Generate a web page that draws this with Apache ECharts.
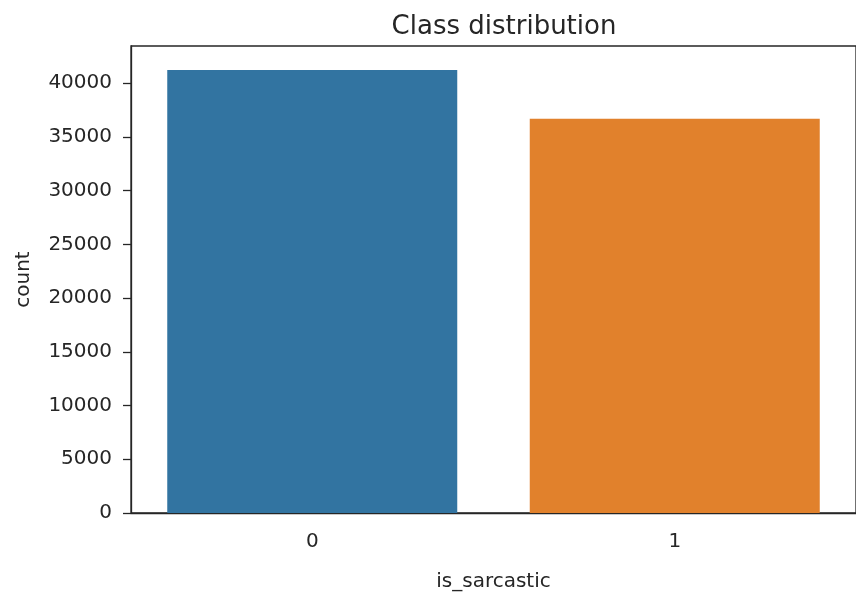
<!DOCTYPE html>
<html>
<head>
<meta charset="utf-8">
<script src="https://cdn.jsdelivr.net/npm/echarts@6/dist/echarts.min.js"></script>
<style>
html,body{margin:0;padding:0;background:#fff;}
#c{width:856px;height:597px;}
</style>
</head>
<body>
<div id="c"></div>
<script>
const categories = ['0', '1'];
const counts = [41230, 36700];
const barColors = ['#3274a1', '#e1812c'];
const yTickValues = [0, 5000, 10000, 15000, 20000, 25000, 30000, 35000, 40000];
const yMax = 43470;

const FONT = 'DejaVu Sans';
const TXT = '#262626';

const chart = echarts.init(document.getElementById('c'), null, {renderer: 'canvas'});
chart.setOption({
  animation: false,
  backgroundColor: '#fff',
  title: {
    text: 'Class distribution',
    left: 499, top: 9, textAlign: 'center',
    textStyle: {fontFamily: FONT, fontSize: 26, fontWeight: 'normal', color: TXT}
  },
  grid: {
    left: 131, top: 46, width: 736, height: 480,
    show: true, borderColor: '#262626', borderWidth: 1.3, backgroundColor: 'transparent'
  },
  xAxis: {
    type: 'category',
    data: categories,
    boundaryGap: true,
    name: 'is_sarcastic',
    nameLocation: 'middle',
    nameGap: 59,
    nameTextStyle: {fontFamily: FONT, fontSize: 20, color: TXT},
    axisLine: {lineStyle: {color: '#262626', width: 1.3}},
    axisTick: {alignWithLabel: true, length: 8, lineStyle: {color: '#262626', width: 1.3}},
    axisLabel: {fontFamily: FONT, fontSize: 20, color: TXT, margin: 19},
    splitLine: {show: false}
  },
  yAxis: {
    type: 'value',
    min: 0, max: yMax, interval: 5000,
    name: 'count',
    nameLocation: 'middle',
    nameGap: 97,
    nameRotate: 90,
    nameTextStyle: {fontFamily: FONT, fontSize: 20, color: TXT},
    axisLine: {show: true, lineStyle: {color: '#262626', width: 1.3}},
    axisTick: {show: true, length: 8, customValues: yTickValues, lineStyle: {color: '#262626', width: 1.3}},
    axisLabel: {fontFamily: FONT, fontSize: 20, color: TXT, margin: 19, customValues: yTickValues,
      formatter: v => String(v)},
    splitLine: {show: false}
  },
  series: [{
    type: 'bar',
    barWidth: '80%',
    data: counts.map((v, i) => ({value: v, itemStyle: {color: barColors[i]}}))
  }]
});
</script>
</body>
</html>
